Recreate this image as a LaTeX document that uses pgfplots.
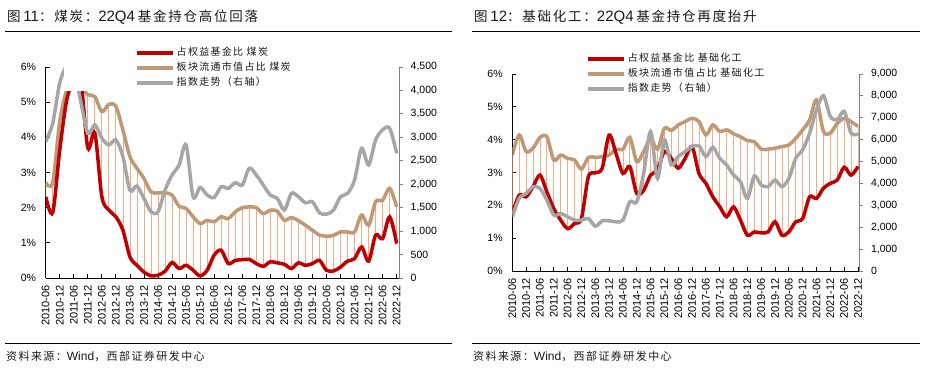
\documentclass[border=0pt]{standalone}
\usepackage{pgfplots}
\pgfplotsset{compat=1.18}
\usepackage{pgfplotstable}
\usepackage{fontspec}
\setmainfont{Liberation Sans}
\newfontfamily\cjk[LetterSpace=13]{Noto Sans CJK SC}
\definecolor{cred}{RGB}{192,0,0}
\definecolor{ctan}{RGB}{192,152,116}
\definecolor{cgray}{RGB}{166,166,166}
\definecolor{cdrop}{RGB}{240,172,130}
\definecolor{ctxt}{RGB}{25,25,25}
\definecolor{caxis}{RGB}{128,128,128}

\newcommand\tC[1]{{\fontsize{13.5}{16}\cjk #1}}
\newcommand\tL[1]{{\fontsize{15}{18}\rmfamily #1}}
\newcommand\sC[1]{{\fontsize{11}{13}\cjk #1}}
\newcommand\sL[1]{{\fontsize{12}{14}\rmfamily #1}}

% coal: r = share of equity funds (%), t = sector float mcap share (%), g = index (right axis)
\pgfplotstableread{
i r t g
0 2.31 2.71 2909
1 1.86 2.71 3301
2 3.64 4.45 4157
3 5.07 5.35 4520
4 5.60 5.60 4450
5 5.60 5.45 3760
6 3.70 5.21 3087
7 4.12 5.16 3266
8 2.31 4.73 2980
9 1.93 4.94 2838
10 1.74 4.88 2945
11 1.36 4.21 2588
12 0.60 3.45 1875
13 0.36 3.12 1961
14 0.17 2.83 1697
15 0.06 2.45 1412
16 0.08 2.42 1412
17 0.19 2.42 1875
18 0.44 2.36 2196
19 0.27 2.04 2410
20 0.36 1.98 2838
21 0.22 1.74 1733
22 0.06 1.55 1932
23 0.22 1.64 1768
24 0.65 1.60 1718
25 0.79 1.74 1946
26 0.41 1.69 1911
27 0.50 1.88 2032
28 0.52 2.00 1982
29 0.53 2.02 2339
30 0.41 2.00 2196
31 0.33 1.83 1982
32 0.46 1.93 1768
33 0.43 1.90 1697
34 0.39 1.64 1447
35 0.27 1.72 1804
36 0.43 1.63 1733
37 0.36 1.50 1604
38 0.41 1.36 1626
39 0.50 1.22 1390
40 0.22 1.19 1362
41 0.20 1.21 1447
42 0.31 1.31 1733
43 0.48 1.31 1804
44 0.55 1.31 2089
45 0.88 1.79 2766
46 0.48 1.50 2410
47 1.22 2.17 2945
48 1.12 2.21 3159
49 1.74 2.55 3194
50 0.98 2.02 2659
}\coal

% basic chemicals
\pgfplotstableread{
i r t g
0 1.75 3.53 2475
1 2.31 4.14 3316
2 2.26 3.64 3545
3 2.57 3.74 3851
4 2.92 4.07 3774
5 2.41 4.09 3239
6 1.90 3.38 2552
7 1.55 3.53 2628
8 1.29 3.43 2475
9 1.45 3.38 2323
10 1.60 3.10 2323
11 2.87 3.46 2399
12 2.99 3.46 2048
13 3.13 3.48 2292
14 4.14 3.53 2292
15 3.58 3.71 2246
16 2.97 3.71 2323
17 3.18 4.07 3163
18 2.36 3.33 3163
19 2.46 3.64 4462
20 2.92 4.04 6372
21 3.08 3.71 4233
22 3.64 4.35 5990
23 3.43 4.28 4844
24 3.13 4.45 5226
25 3.43 4.55 5455
26 3.79 4.65 5684
27 2.97 4.55 5715
28 2.67 4.14 5226
29 2.26 4.45 5654
30 1.96 4.25 5149
31 1.65 4.30 4844
32 1.95 4.18 4385
33 1.55 4.09 4080
34 1.09 3.97 3316
35 1.19 3.94 4340
36 1.16 3.71 3927
37 1.19 3.71 3851
38 1.50 3.74 4156
39 1.09 3.79 3851
40 1.19 3.84 4233
41 1.50 4.04 5149
42 1.60 4.30 5531
43 2.26 4.60 6295
44 2.21 5.21 7365
45 2.52 4.25 8007
46 2.67 4.20 7059
47 2.77 4.50 6907
48 3.16 4.65 7289
49 2.92 4.55 6295
50 3.18 4.40 6265
}\chem

\pgfplotsset{
  prim/.style={
    scale only axis, xmin=0, ymin=0, ymax=6,
    axis x line*=bottom, axis y line*=left,
    tick align=inside, major tick length=4pt,
    axis line style={black, line width=0.8pt},
    tick style={black, line width=0.8pt},
    xtick={0,2,...,50},
    xticklabels={2010-06,2010-12,2011-06,2011-12,2012-06,2012-12,2013-06,2013-12,2014-06,2014-12,2015-06,2015-12,2016-06,2016-12,2017-06,2017-12,2018-06,2018-12,2019-06,2019-12,2020-06,2020-12,2021-06,2021-12,2022-06,2022-12},
    x tick label style={rotate=90, anchor=east, inner xsep=7pt, inner ysep=0pt, font=\fontsize{11}{11}\selectfont},
    ytick={0,1,...,6},
    yticklabels={0\%,1\%,2\%,3\%,4\%,5\%,6\%},
    y tick label style={anchor=east, inner sep=0pt, xshift=-9.5pt, font=\fontsize{10.5}{10.5}\selectfont},
  },
  sec/.style={
    scale only axis, xmin=0, ymin=0,
    axis x line=none, axis y line*=right,
    tick align=outside, major tick length=4pt,
    axis line style={caxis, line width=0.8pt},
    tick style={caxis, line width=0.8pt},
    y tick label style={anchor=west, inner sep=0pt, xshift=7.5pt, font=\fontsize{10.5}{10.5}\selectfont},
    legend cell align=left,
    legend image code/.code={\draw[##1, line width=3.5pt] (0pt,0pt) -- (36pt,0pt);},
  },
  dl/.style={line width=3.5pt, smooth, mark=none},
  drop/.style={draw=none, mark=none, forget plot,
    error bars/.cd, y dir=plus, y explicit,
    error bar style={draw=cdrop, line width=0.8pt}, error mark=none},
}

\begin{document}
\begin{tikzpicture}[x=1pt,y=1pt]
\path[use as bounding box] (0,0) rectangle (926,369);

% ---------- panel 1 ----------
\node[anchor=base west, inner sep=0pt, text=ctxt] at (7,347) {\tC{图} \tL{11}\tC{：煤炭：}\tL{22Q4} \tC{基金持仓高位回落}};
\draw[line width=0.8pt] (5,338) -- (452,338);
\draw[line width=0.8pt] (5,26) -- (452,26);
\node[anchor=base west, inner sep=0pt, text=ctxt] at (6,8) {\sC{资料来源：}\sL{Wind}\sC{，西部证券研发中心}};

\begin{axis}[prim, at={(45.7pt,91pt)}, anchor=south west, width=353.3pt, height=211pt, xmax=50.33]
\addplot[drop] table[x=i, y=r, y error expr=\thisrow{t}-\thisrow{r}] {\coal};
\addplot[ctan, dl, forget plot] table[x=i, y=t] {\coal};
\addplot[cred, dl, forget plot] table[x=i, y=r] {\coal};
\end{axis}
\begin{axis}[sec, at={(45.7pt,91pt)}, anchor=south west, width=353.3pt, height=211pt, xmax=50.33,
  ymax=4500, ytick={0,500,...,4500},
  yticklabels={0,500,{1,000},{1,500},{2,000},{2,500},{3,000},{3,500},{4,000},{4,500}},
  legend style={at={(axis description cs:0.0518,1.102)}, anchor=north west, fill=white, draw=none,
    inner xsep=71pt, inner ysep=0pt, row sep=0pt, text=ctxt,
    font=\fontsize{10}{12}\cjk,
    nodes={inner xsep=2pt, inner ysep=2.75pt, text height=7.5pt, text depth=2pt}}]
\addlegendimage{cred, line width=3.5pt}
\addlegendentry{占权益基金比 煤炭}
\addlegendimage{ctan, line width=3.5pt}
\addlegendentry{板块流通市值占比 煤炭}
\addplot[cgray, dl] table[x=i, y=g] {\coal};
\addlegendentry{指数走势（右轴）}
\end{axis}

% ---------- panel 2 ----------
\node[anchor=base west, inner sep=0pt, text=ctxt] at (474,347) {\tC{图} \tL{12}\tC{：基础化工：}\tL{22Q4} \tC{基金持仓再度抬升}};
\draw[line width=0.8pt] (472,338) -- (920,338);
\draw[line width=0.8pt] (472,26) -- (920,26);
\node[anchor=base west, inner sep=0pt, text=ctxt] at (473,8) {\sC{资料来源：}\sL{Wind}\sC{，西部证券研发中心}};

\begin{axis}[prim, at={(512.3pt,98pt)}, anchor=south west, width=347pt, height=197pt, xmax=50.19]
\addplot[drop] table[x=i, y=r, y error expr=\thisrow{t}-\thisrow{r}] {\chem};
\addplot[ctan, dl, forget plot] table[x=i, y=t] {\chem};
\addplot[cred, dl, forget plot] table[x=i, y=r] {\chem};
\end{axis}
\begin{axis}[sec, at={(512.3pt,98pt)}, anchor=south west, width=347pt, height=197pt, xmax=50.19,
  ymax=9000, ytick={0,1000,...,9000},
  yticklabels={0,{1,000},{2,000},{3,000},{4,000},{5,000},{6,000},{7,000},{8,000},{9,000}},
  legend style={at={(axis description cs:0.2126,1.114)}, anchor=north west, fill=white, draw=none,
    inner xsep=0pt, inner ysep=0pt, row sep=0pt, text=ctxt,
    font=\fontsize{10}{12}\cjk,
    nodes={inner xsep=2pt, inner ysep=2.75pt, text height=7.5pt, text depth=2pt}}]
\addlegendimage{cred, line width=3.5pt}
\addlegendentry{占权益基金比 基础化工}
\addlegendimage{ctan, line width=3.5pt}
\addlegendentry{板块流通市值占比 基础化工}
\addplot[cgray, dl] table[x=i, y=g] {\chem};
\addlegendentry{指数走势（右轴）}
\end{axis}
\end{tikzpicture}
\end{document}
